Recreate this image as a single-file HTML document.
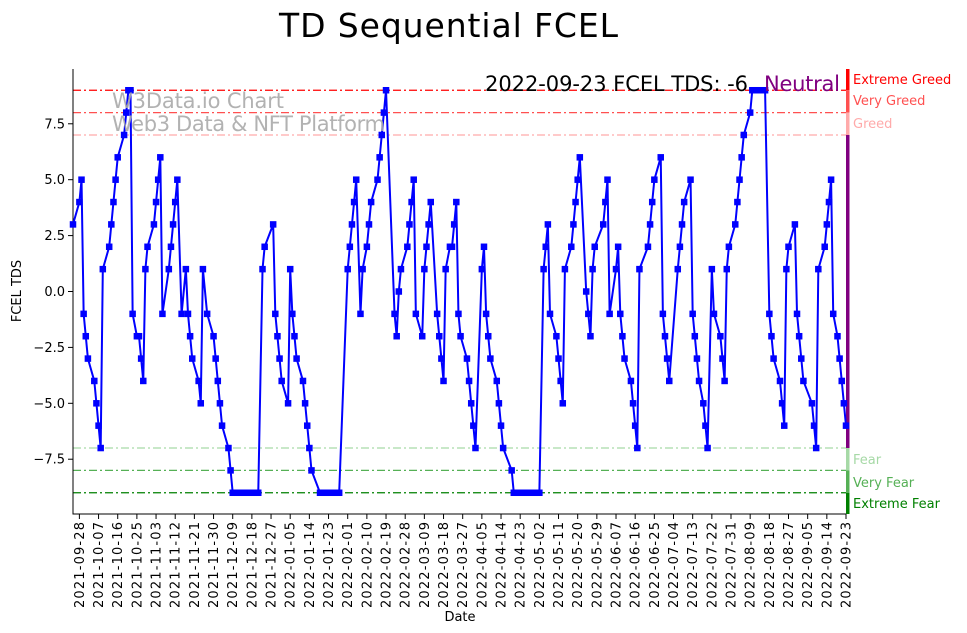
<!DOCTYPE html>
<html><head><meta charset="utf-8"><title>TD Sequential FCEL</title>
<style>
html,body{margin:0;padding:0;background:#fff;}
svg{display:block;font-family:"DejaVu Sans","Liberation Sans",sans-serif;}
</style></head>
<body>
<svg id="chart" width="967" height="633" viewBox="0 0 967 633" xmlns="http://www.w3.org/2000/svg">
<text x="279" y="37" font-size="33" fill="#000" textLength="339">TD Sequential FCEL</text>
<g id="plot"></g>
<text x="112" y="108" font-size="21" fill="#aaa" fill-opacity="0.9" textLength="172">W3Data.io Chart</text>
<text x="112" y="131" font-size="21" fill="#aaa" fill-opacity="0.9" textLength="273">Web3 Data &amp; NFT Platform</text>
<text x="485" y="91" font-size="21" fill="#000" textLength="263">2022-09-23 FCEL TDS: -6</text>
<text x="764" y="91" font-size="21" fill="#800080" textLength="76">Neutral</text>
<text x="460" y="621" font-size="13" text-anchor="middle">Date</text>
<text transform="translate(21,291) rotate(-90)" font-size="13" text-anchor="middle">FCEL TDS</text>
</svg>
<script>
const baseDate = "2021-09-28";
const dayOffsets = [-3,0,1,2,3,4,7,8,9,10,11,14,15,16,17,18,21,22,23,24,25,27,28,29,30,31,32,35,36,37,38,39,42,43,44,45,46,48,50,51,52,53,56,57,58,60,63,64,65,66,67,70,71,
72,73,74,75,76,77,78,79,80,81,82,83,84,
86,87,91,92,93,94,95,98,99,100,101,102,105,106,107,108,109,
113,114,115,116,117,118,119,120,121,122,
126,127,128,129,130,132,133,135,136,137,140,141,142,143,144,148,149,150,151,154,155,156,157,158,161,162,163,164,165,168,169,170,171,172,174,175,176,177,178,179,182,183,184,185,186,189,190,191,192,193,196,197,198,199,203,
204,205,206,207,208,209,210,211,212,213,214,215,216,
218,219,220,221,224,225,226,227,228,231,232,233,234,235,238,239,240,241,242,246,247,248,249,252,253,254,255,256,259,260,261,262,263,267,268,269,270,273,274,275,276,277,281,282,283,284,287,288,289,290,291,293,294,295,297,298,301,302,303,304,305,308,309,310,311,312,315,
316,317,318,319,320,321,322,
324,325,326,329,330,331,332,333,336,337,338,339,340,344,345,346,347,350,351,352,353,354,356,357,358,359,360];
const tdsValues = [3,4,5,-1,-2,-3,-4,-5,-6,-7,1,2,3,4,5,6,7,8,9,9,-1,-2,-2,-3,-4,1,2,3,4,5,6,-1,1,2,3,4,5,-1,1,-1,-2,-3,-4,-5,1,-1,-2,-3,-4,-5,-6,-7,-8,
-9,-9,-9,-9,-9,-9,-9,-9,-9,-9,-9,-9,-9,
1,2,3,-1,-2,-3,-4,-5,1,-1,-2,-3,-4,-5,-6,-7,-8,
-9,-9,-9,-9,-9,-9,-9,-9,-9,-9,
1,2,3,4,5,-1,1,2,3,4,5,6,7,8,9,-1,-2,0,1,2,3,4,5,-1,-2,1,2,3,4,-1,-2,-3,-4,1,2,2,3,4,-1,-2,-3,-4,-5,-6,-7,1,2,-1,-2,-3,-4,-5,-6,-7,-8,
-9,-9,-9,-9,-9,-9,-9,-9,-9,-9,-9,-9,-9,
1,2,3,-1,-2,-3,-4,-5,1,2,3,4,5,6,0,-1,-2,1,2,3,4,5,-1,1,2,-1,-2,-3,-4,-5,-6,-7,1,2,3,4,5,6,-1,-2,-3,-4,1,2,3,4,5,-1,-2,-3,-4,-5,-6,-7,1,-1,-2,-3,-4,1,2,3,4,5,6,7,8,
9,9,9,9,9,9,9,
-1,-2,-3,-4,-5,-6,1,2,3,-1,-2,-3,-4,-5,-6,-7,1,2,3,4,5,-1,-2,-3,-4,-5,-6];
const yTickValues = [-7.5,-5.0,-2.5,0.0,2.5,5.0,7.5];
const yTickLabels = ["−7.5","−5.0","−2.5","0.0","2.5","5.0","7.5"];
const xTickStep = 9;
const levelValues = [9,8,7,-7,-8,-9];
const levelNames = ["Extreme Greed","Very Greed","Greed","Fear","Very Fear","Extreme Fear"];
const levelColors = ["#ff0000","#ff5050","#ffaaaa","#a6d9a6","#55b055","#008000"];

const NS="http://www.w3.org/2000/svg";
const plot=document.getElementById('plot');
const L=73,R=846,T=69,B=514;
const xMin=dayOffsets[0], xMax=dayOffsets[dayOffsets.length-1];
const yMin=-9.95,yMax=9.95;
function xs(d){return L+(d-xMin)/(xMax-xMin)*(R-L);}
function ys(v){return B-(v-yMin)/(yMax-yMin)*(B-T);}
function mk(tag,attrs,parent){const e=document.createElementNS(NS,tag);for(const k in attrs)e.setAttribute(k,attrs[k]);(parent||plot).appendChild(e);return e;}
function fmt(d){const t=new Date(Date.parse(baseDate+"T00:00:00Z")+d*86400000);return t.toISOString().slice(0,10);}

levelValues.forEach((v,i)=>{
  const ln=mk('line',{x1:L,x2:R,y1:ys(v),y2:ys(v),stroke:levelColors[i],'stroke-width':1.2,'stroke-dasharray':'8,3,2,3'});
  
  
});
const zoneEdges=[yMax,9,8,7,-7,-8,-9,yMin];
const zoneCols=["#ff0000","#ff5050","#ffaaaa","#800080","#a6d9a6","#55b055","#008000"];
const zoneNames=["extreme-greed","very-greed","greed","neutral","fear","very-fear","extreme-fear"];
for(let i=0;i<zoneCols.length;i++){
  const top=Math.min(ys(zoneEdges[i]),ys(zoneEdges[i+1]));
  const h=Math.abs(ys(zoneEdges[i+1])-ys(zoneEdges[i]));
  const r=mk('rect',{x:R,y:top,width:3.5,height:h,fill:zoneCols[i]});
  
  
}
const labelYs={"Extreme Greed":84,"Very Greed":105,"Greed":128,"Fear":464,"Very Fear":487,"Extreme Fear":508};
levelValues.forEach((v,i)=>{
  const t=mk('text',{x:853,y:labelYs[levelNames[i]],'font-size':13,fill:levelColors[i]});
  t.textContent=levelNames[i];
  
  
});

const ax1=mk('line',{x1:L,x2:L,y1:T,y2:B+0.5,stroke:'#000','stroke-width':1});


const ax2=mk('line',{x1:L-0.5,x2:R,y1:B,y2:B,stroke:'#000','stroke-width':1});



yTickValues.forEach((v,i)=>{
  const y=ys(v);
  const tk=mk('line',{x1:L-5,x2:L,y1:y,y2:y,stroke:'#000','stroke-width':1});
  
  
  const t=mk('text',{x:L-8,y:y+4.5,'font-size':13,'text-anchor':'end'});
  t.textContent=yTickLabels[i];
  
  
});
for(let d=0; d<=xMax; d+=xTickStep){
  const x=xs(d);
  const tk=mk('line',{x1:x,x2:x,y1:B,y2:B+5,stroke:'#000','stroke-width':1});
  
  
  const t=mk('text',{transform:`translate(${x+4.5},${B+8}) rotate(-90)`,'font-size':13,'text-anchor':'end',textLength:86});
  t.textContent=fmt(d);
  
  
}
const pts=dayOffsets.map((d,i)=>xs(d).toFixed(2)+','+ys(tdsValues[i]).toFixed(2)).join(' ');
const pl=mk('polyline',{points:pts,fill:'none',stroke:'#0000ff','stroke-width':2,'stroke-linejoin':'round'});


dayOffsets.forEach((d,i)=>{
  const s=6.5;
  const m=mk('rect',{x:xs(d)-s/2,y:ys(tdsValues[i])-s/2,width:s,height:s,fill:'#0000ff'});
  
  
});
</script>
</body></html>
